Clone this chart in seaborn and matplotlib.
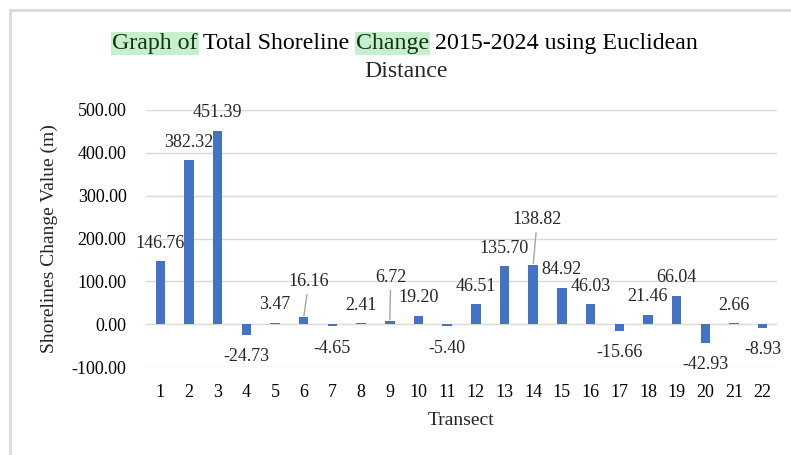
import pandas as pd
import matplotlib.pyplot as plt
import numpy as np
import seaborn as sns
from matplotlib.lines import Line2D

transects = [str(i) for i in range(1, 23)]
change = [146.76, 382.32, 451.39, -24.73, 3.47, 16.16, -4.65, 2.41, 6.72, 19.20, -5.40,
          46.51, 135.70, 138.82, 84.92, 46.03, -15.66, 21.46, 66.04, -42.93, 2.66, -8.93]

# label offsets (pixels) where excel moved the label away and drew a leader line
moved = {5: (5, 36), 8: (1, 44), 13: (4, 45)}

df = pd.DataFrame({'Transect': transects, 'Change': change})

sns.set_style('white')
plt.rcParams['font.family'] = ['Liberation Serif', 'DejaVu Serif']

fig = plt.figure(figsize=(7.91, 4.55), dpi=100)
ax = fig.add_axes([146 / 791, 1 - 367 / 455, 631 / 791, 257 / 455])

sns.barplot(data=df, x='Transect', y='Change', color='#4472C4', width=0.33,
            saturation=1, linewidth=0, ax=ax)

ax.set_ylim(-100, 500)
ax.set_xlim(-0.5, 21.5)
ax.set_yticks(np.arange(-100, 501, 100))
ax.set_yticklabels([f'{v:.2f}' for v in np.arange(-100, 501, 100)])
ax.yaxis.grid(True, color='#d9d9d9', linewidth=1.0, zorder=0)
ax.set_axisbelow(True)
for s in ax.spines.values():
    s.set_visible(False)
ax.tick_params(axis='both', length=0, labelsize=13, colors='black')
ax.tick_params(axis='y', pad=14)
ax.tick_params(axis='x', pad=12)
ax.set_xlabel('Transect', fontsize=14, labelpad=8)
ax.set_ylabel('Shorelines Change Value (m)', fontsize=14, labelpad=10)

# data labels
for i, v in enumerate(change):
    if i in moved:
        dx, dy = moved[i]
        ax.annotate(f'{v:.2f}', xy=(i, v), xytext=(dx, dy), textcoords='offset pixels',
                    ha='center', va='center', fontsize=13,
                    arrowprops=dict(arrowstyle='-', color='#a6a6a6', lw=1,
                                    shrinkA=1, shrinkB=1))
    elif v >= 0:
        ax.annotate(f'{v:.2f}', xy=(i, v), xytext=(0, 18), textcoords='offset pixels',
                    ha='center', va='center', fontsize=13)
    else:
        ax.annotate(f'{v:.2f}', xy=(i, v), xytext=(0, -22), textcoords='offset pixels',
                    ha='center', va='center', fontsize=13)

# title with highlighted words
tsize = 17.2
space = tsize * 100 / 72 * 0.25
pieces = [('Graph of', True), ('Total Shoreline', False), ('Change', True),
          ('2015-2024 using Euclidean', False)]
hl = dict(boxstyle='square,pad=0.05', fc='#c6efce', ec='none')
prev = fig.text(112 / 791, 1 - 49 / 455, pieces[0][0], fontsize=tsize, va='baseline',
                ha='left', color='#143214', bbox=hl)
for txt, mark in pieces[1:]:
    prev = ax.annotate(txt, xy=(1, 0), xycoords=prev, xytext=(space, 0),
                       textcoords='offset pixels', ha='left', va='bottom',
                       fontsize=tsize, annotation_clip=False,
                       color='#143214' if mark else 'black', bbox=hl if mark else None)
fig.text(406 / 791, 1 - 77 / 455, 'Distance', fontsize=tsize, ha='center', va='baseline')

# chart frame
fig.add_artist(Line2D([10 / 791, 10 / 791], [0, 1 - 10 / 455], color='#d9d9d9', lw=2,
                      transform=fig.transFigure))
fig.add_artist(Line2D([10 / 791, 1], [1 - 10 / 455, 1 - 10 / 455], color='#d9d9d9', lw=2,
                      transform=fig.transFigure))

fig.savefig('out.png', dpi=100)
